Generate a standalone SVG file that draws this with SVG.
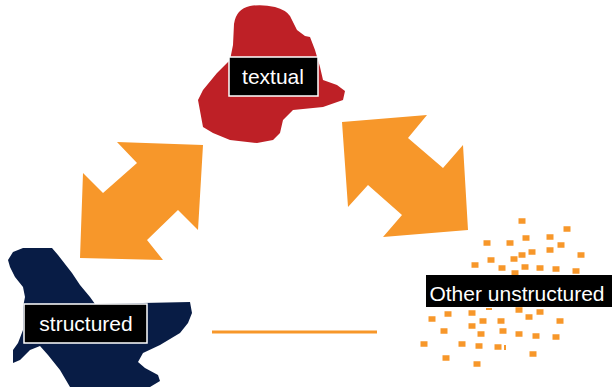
<svg xmlns="http://www.w3.org/2000/svg" width="612" height="387" viewBox="0 0 612 387">
<style>
.lbl{fill:#000;stroke:#fff;stroke-width:1.5}
.t{font-family:"Liberation Sans",Arial,sans-serif;font-size:21px;fill:#fff;text-anchor:middle}
.o{fill:#f7972a}
.d{fill:#f7972a}
</style>
<defs>
<rect id="sq" x="-3.5" y="-2.75" width="7" height="5.5" class="d"/>
</defs>
<rect width="612" height="387" fill="#fff"/>
<g id="textual">
<path d="M234,24 Q236,9 250,6 Q262,4 275,7 Q286,10 290,16 L297,30 L305,36 L310,37 L315,50 L320,67 L323,80 L337,85 L345,91 L343,100 L323,107 L293,110 L283,120 L280,133 L273,140 L257,143 L230,140 L213,133 L203,127 L198,100 L203,90 L217,73 L230,60 L233,45 Z" fill="#be2026"/>
<rect class="lbl" x="229" y="57" width="89" height="39"/>
<text class="t" x="273" y="84">textual</text>
</g>
<g id="structured">
<path d="M8,260 L13,252 L23,248 L52,248 L58,255 L72,273 L80,285 L90,297 L95,304 L190,302 L192,313 L188,323 L180,333 L160,345 L143,353 L138,362 L145,368 L158,375 L160,381 L150,387 L70,387 L60,370 L48,355 L40,346 L30,350 L20,360 L13,363 L13,350 L18,343 L23,330 L23,307 L25,297 L23,287 L15,277 L10,267 Z" fill="#081c45"/>
<rect class="lbl" x="24" y="304" width="123" height="39"/>
<text class="t" x="86" y="331">structured</text>
</g>
<g id="other">
<g>
<use href="#sq" x="522" y="221"/><use href="#sq" x="567" y="229"/><use href="#sq" x="487" y="243"/><use href="#sq" x="510" y="243"/>
<use href="#sq" x="526" y="238"/><use href="#sq" x="550" y="237"/><use href="#sq" x="561" y="245"/><use href="#sq" x="532" y="252"/>
<use href="#sq" x="522" y="255"/><use href="#sq" x="550" y="250"/><use href="#sq" x="581" y="255"/><use href="#sq" x="475" y="265"/>
<use href="#sq" x="491" y="260"/><use href="#sq" x="514" y="259"/><use href="#sq" x="502" y="268"/><use href="#sq" x="525" y="267"/>
<use href="#sq" x="540" y="268"/><use href="#sq" x="556" y="269"/><use href="#sq" x="576" y="271"/><use href="#sq" x="515" y="273"/>
<use href="#sq" x="519" y="310"/><use href="#sq" x="540" y="312"/><use href="#sq" x="472" y="313"/><use href="#sq" x="448" y="314"/>
<use href="#sq" x="432" y="319"/><use href="#sq" x="529" y="317"/><use href="#sq" x="483" y="321"/><use href="#sq" x="501" y="321"/>
<use href="#sq" x="560" y="321"/><use href="#sq" x="472" y="326"/><use href="#sq" x="444" y="331"/><use href="#sq" x="503" y="331"/>
<use href="#sq" x="481" y="334"/><use href="#sq" x="519" y="334"/><use href="#sq" x="536" y="336"/><use href="#sq" x="556" y="337"/>
<use href="#sq" x="424" y="344"/><use href="#sq" x="462" y="344"/><use href="#sq" x="479" y="346"/><use href="#sq" x="498" y="347"/>
<use href="#sq" x="533" y="354"/><use href="#sq" x="446" y="358"/><use href="#sq" x="477" y="364"/>
<rect x="486" y="308" width="6" height="2" class="d"/><rect x="504" y="345" width="2" height="5" class="d"/>
</g>
<rect x="426" y="275" width="190" height="32" fill="#000"/>
<text class="t" x="517" y="301">Other unstructured</text>
</g>
<g id="connectors">
<polygon class="o" points="117,142 203,145 198,230 178,210 147,240 163,260 80,258 83,173 103,193 137,163"/>
<polygon class="o" points="342,122 427,115 408,138 443,168 463,145 468,230 383,237 402,215 368,185 348,207"/>
<line x1="212" y1="332" x2="377" y2="332" stroke="#f7972a" stroke-width="3"/>
</g>
</svg>
